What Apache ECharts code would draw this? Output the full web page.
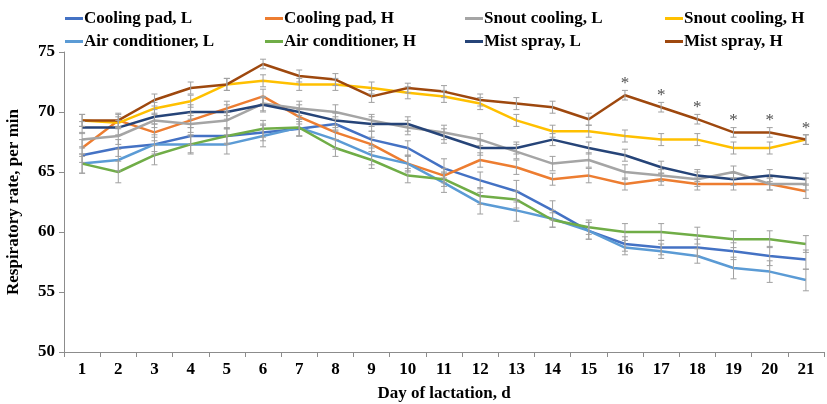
<!DOCTYPE html>
<html><head><meta charset="utf-8">
<script src="https://cdn.jsdelivr.net/npm/echarts@6/dist/echarts.min.js"></script>
<style>html,body{margin:0;padding:0;background:#fff}#c{width:827px;height:404px}</style>
</head><body><div id="c"></div>
<script>
const days = ['1','2','3','4','5','6','7','8','9','10','11','12','13','14','15','16','17','18','19','20','21'];
const yTicks = [50, 55, 60, 65, 70, 75];

const coolPadL = [66.4,67.0,67.3,68.0,68.0,68.3,68.6,69.0,67.7,67.0,65.3,64.3,63.4,61.8,60.1,59.0,58.7,58.7,58.4,58.0,57.7];
const coolPadH = [67.0,69.3,68.3,69.3,70.3,71.3,69.6,68.3,67.3,65.7,64.7,66.0,65.4,64.4,64.7,64.0,64.4,64.0,64.0,64.0,63.4];
const snoutL   = [67.7,68.0,69.3,69.0,69.3,70.7,70.3,70.0,69.3,68.7,68.3,67.7,66.7,65.7,66.0,65.0,64.7,64.4,65.0,64.0,64.0];
const snoutH   = [69.3,69.1,70.3,70.9,72.3,72.6,72.3,72.3,72.0,71.6,71.3,70.7,69.3,68.4,68.4,68.0,67.7,67.7,67.0,67.0,67.7];
const airL     = [65.7,66.0,67.3,67.3,67.3,68.0,68.7,67.7,66.4,65.7,64.1,62.4,61.8,61.1,60.1,58.7,58.4,58.0,57.0,56.7,56.0];
const airH     = [65.7,65.0,66.4,67.3,68.0,68.6,68.7,67.0,66.0,64.7,64.4,63.0,62.7,61.0,60.4,60.0,60.0,59.7,59.4,59.4,59.0];
const mistL    = [68.7,68.7,69.6,70.0,70.0,70.6,70.0,69.3,69.0,69.0,68.0,67.0,67.0,67.7,67.0,66.4,65.4,64.7,64.4,64.7,64.4];
const mistH    = [69.3,69.3,71.0,72.0,72.3,74.0,73.0,72.7,71.3,72.0,71.7,71.0,70.7,70.4,69.4,71.4,70.4,69.4,68.3,68.3,67.7];

const errCoolPadL = [0.6,0.7,0.6,0.7,0.6,0.7,0.6,0.6,0.7,0.6,0.8,0.7,0.9,0.8,0.7,0.6,0.6,0.7,0.7,0.8,0.8];
const errCoolPadH = [0.7,0.6,0.7,0.6,0.6,0.6,0.6,0.6,0.6,0.6,0.6,0.6,0.6,0.5,0.6,0.5,0.5,0.5,0.5,0.5,0.6];
const errSnoutL   = [0.6,0.7,0.6,0.7,0.7,0.6,0.6,0.6,0.5,0.6,0.6,0.5,0.6,0.6,0.6,0.6,0.5,0.6,0.5,0.5,0.5];
const errSnoutH   = [0.5,0.5,0.5,0.5,0.5,0.5,0.5,0.5,0.5,0.5,0.5,0.5,0.5,0.5,0.5,0.5,0.5,0.5,0.5,0.5,0.4];
const errAirL     = [0.8,0.9,0.8,0.8,0.8,0.9,0.7,0.8,0.8,0.7,0.8,0.9,0.9,0.7,0.7,0.6,0.6,0.6,0.9,0.9,0.9];
const errAirH     = [0.8,0.9,0.8,0.7,0.7,0.7,0.7,0.7,0.7,0.6,0.6,0.7,0.7,0.6,0.6,0.7,0.7,0.7,0.7,0.7,0.7];
const errMistL    = [0.5,0.6,0.6,0.6,0.6,0.6,0.6,0.6,0.6,0.6,0.6,0.6,0.5,0.5,0.5,0.5,0.5,0.5,0.5,0.5,0.5];
const errMistH    = [0.5,0.5,0.5,0.5,0.5,0.4,0.5,0.5,0.5,0.4,0.5,0.5,0.5,0.5,0.5,0.4,0.4,0.4,0.4,0.4,0.4];

const sig = ['','','','','','','','','','','','','','','','*','*','*','*','*','*'];

const seriesDefs = [
  {name:'Cooling pad, L', data:coolPadL, err:errCoolPadL, color:'#4472C4'},
  {name:'Cooling pad, H', data:coolPadH, err:errCoolPadH, color:'#ED7D31'},
  {name:'Snout cooling, L', data:snoutL, err:errSnoutL, color:'#A5A5A5'},
  {name:'Snout cooling, H', data:snoutH, err:errSnoutH, color:'#FFC000'},
  {name:'Air conditioner, L', data:airL, err:errAirL, color:'#5B9BD5'},
  {name:'Air conditioner, H', data:airH, err:errAirH, color:'#70AD47'},
  {name:'Mist spray, L', data:mistL, err:errMistL, color:'#264478'},
  {name:'Mist spray, H', data:mistH, err:errMistH, color:'#9E480E'}
];

const FONT = '"Liberation Serif", "Times New Roman", serif';
const FS = 17;
const chart = echarts.init(document.getElementById('c'), null, {renderer:'canvas'});

function errRender(params, api){
  const x = api.value(0), y = api.value(1), e = api.value(2);
  const t = api.coord([x, y + e]);
  const b = api.coord([x, y - e]);
  const cw = 3;
  const st = {stroke:'#A0A0A0', lineWidth:1};
  return {type:'group', children:[
    {type:'line', shape:{x1:t[0], y1:t[1], x2:b[0], y2:b[1]}, style:st},
    {type:'line', shape:{x1:t[0]-cw, y1:t[1], x2:t[0]+cw, y2:t[1]}, style:st},
    {type:'line', shape:{x1:b[0]-cw, y1:b[1], x2:b[0]+cw, y2:b[1]}, style:st}
  ]};
}

const series = [];
seriesDefs.forEach(s => {
  series.push({
    name:s.name, type:'line', data:s.data, symbol:'none', z:3,
    lineStyle:{color:s.color, width:2.5}, itemStyle:{color:s.color},
    animation:false
  });
});
seriesDefs.forEach(s => {
  series.push({
    type:'custom', renderItem:errRender, z:4, silent:true, animation:false,
    encode:{x:0, y:1},
    data:s.data.map((v,i)=>[i, v, s.err[i]])
  });
});
series.push({
  type:'scatter', symbolSize:0, silent:true, animation:false, z:5,
  data: mistH.map((v,i)=> sig[i] ? [i, v, sig[i]] : null).filter(Boolean),
  label:{show:true, position:'top', distance:3, formatter:p=>p.value[2],
    color:'#222', fontFamily:FONT, fontSize:17, fontWeight:'normal'}
});

const legendCols = [
  ['Cooling pad, L','Air conditioner, L'],
  ['Cooling pad, H','Air conditioner, H'],
  ['Snout cooling, L','Mist spray, L'],
  ['Snout cooling, H','Mist spray, H']
];
const legends = legendCols.map((names, k) => ({
  orient:'vertical', left:60 + k*200, top:5, itemGap:6,
  data:names, icon:'rect', itemWidth:18, itemHeight:3,
  textStyle:{fontFamily:FONT, fontSize:FS, fontWeight:'bold', color:'#000', padding:[0,0,0,-4]},
  selectedMode:false
}));

chart.setOption({
  animation:false,
  backgroundColor:'#fff',
  legend: legends,
  grid:{left:64, right:3, top:52, bottom:52, containLabel:false, outerBoundsMode:'none'},
  xAxis:{
    type:'category', data:days, boundaryGap:true,
    name:'Day of lactation, d', nameLocation:'middle', nameGap:33,
    nameTextStyle:{fontFamily:FONT, fontSize:FS, fontWeight:'bold', color:'#000'},
    axisLine:{lineStyle:{color:'#8c8c8c', width:1}},
    axisTick:{show:true, length:5, lineStyle:{color:'#8c8c8c'}, alignWithLabel:false},
    axisLabel:{fontFamily:FONT, fontSize:FS, fontWeight:'bold', color:'#000', margin:9},
    splitLine:{show:false}
  },
  yAxis:{
    type:'value', min:yTicks[0], max:yTicks[yTicks.length-1], interval:5,
    name:'Respiratory rate, per min', nameLocation:'middle', nameGap:42,
    nameTextStyle:{fontFamily:FONT, fontSize:FS, fontWeight:'bold', color:'#000'},
    axisLine:{show:true, lineStyle:{color:'#8c8c8c', width:1}},
    axisTick:{show:true, length:5, lineStyle:{color:'#8c8c8c'}},
    axisLabel:{fontFamily:FONT, fontSize:FS, fontWeight:'bold', color:'#000', margin:9},
    splitLine:{show:false}
  },
  series: series
});
</script></body></html>
